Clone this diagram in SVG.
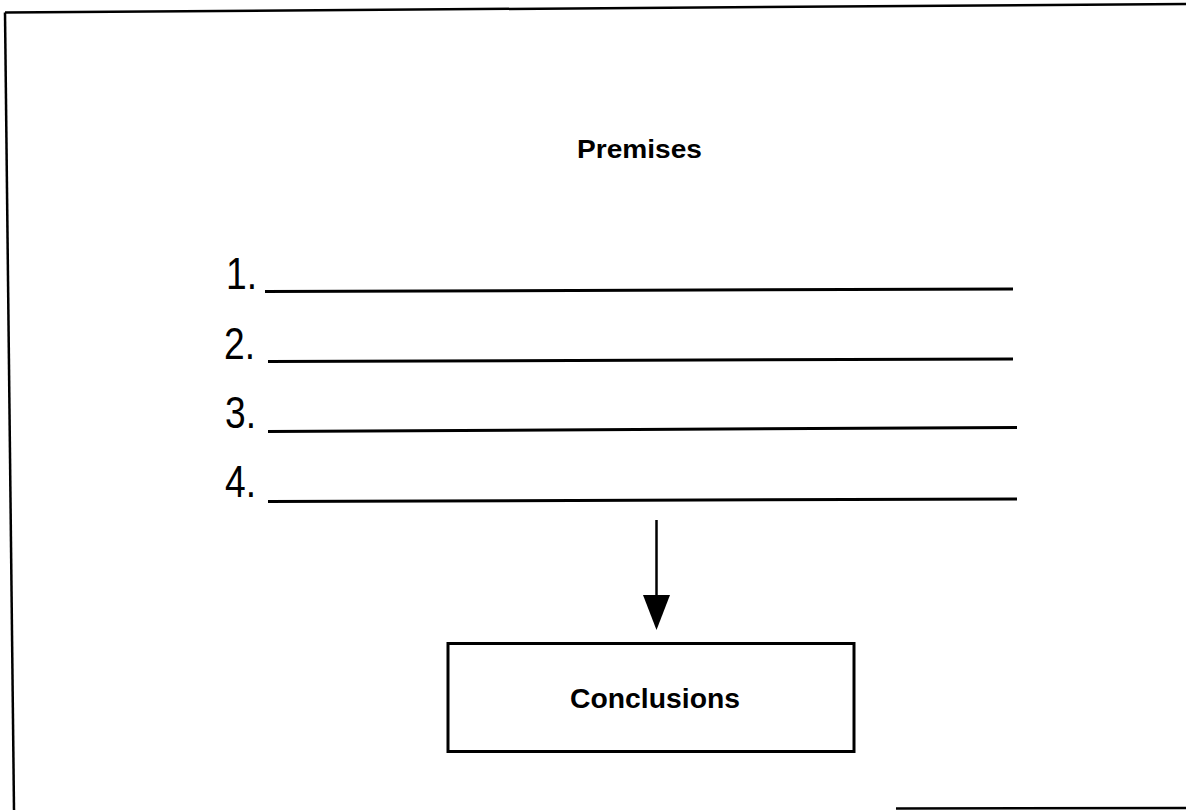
<svg xmlns="http://www.w3.org/2000/svg" width="1186" height="810" viewBox="0 0 1186 810">
<defs>
<style>
.frame{stroke:#000;stroke-width:2.5;fill:none}
.rule{stroke:#000;stroke-width:3;fill:none}
.num{font-family:"Liberation Sans",Arial,sans-serif;font-size:44px;fill:#000}
.lbl{font-family:"Liberation Sans",Arial,sans-serif;font-weight:bold;fill:#000}
</style>
</defs>
<rect x="0" y="0" width="1186" height="810" fill="#fff"/>
<g id="frame">
<line class="frame" x1="5" y1="12.5" x2="1186" y2="4"/>
<line class="frame" x1="5" y1="12.5" x2="14" y2="810"/>
<line class="frame" x1="896" y1="808.5" x2="1186" y2="808"/>
</g>
<g id="premises">
<text class="lbl" x="639.5" y="158" font-size="25" text-anchor="middle" textLength="125" lengthAdjust="spacingAndGlyphs">Premises</text>
</g>
<g id="premise-1">
<text class="num" x="226" y="289" textLength="31" lengthAdjust="spacingAndGlyphs">1.</text>
<line class="rule" x1="265" y1="291.5" x2="1013" y2="289"/>
</g>
<g id="premise-2">
<text class="num" x="224" y="359" textLength="31" lengthAdjust="spacingAndGlyphs">2.</text>
<line class="rule" x1="268" y1="361.5" x2="1013" y2="359"/>
</g>
<g id="premise-3">
<text class="num" x="225" y="428" textLength="31" lengthAdjust="spacingAndGlyphs">3.</text>
<line class="rule" x1="268" y1="431.5" x2="1017" y2="427.5"/>
</g>
<g id="premise-4">
<text class="num" x="225" y="497" textLength="31" lengthAdjust="spacingAndGlyphs">4.</text>
<line class="rule" x1="268" y1="501.5" x2="1017" y2="499"/>
</g>
<g id="connectors">
<line x1="656.5" y1="520" x2="656.5" y2="598" stroke="#000" stroke-width="2.5"/>
<polygon points="643,595 670,595 656.5,630" fill="#000"/>
</g>
<g id="conclusions">
<rect x="448" y="643.5" width="406" height="108" fill="none" stroke="#000" stroke-width="3"/>
<text class="lbl" x="655" y="708" font-size="27" text-anchor="middle" textLength="170" lengthAdjust="spacingAndGlyphs">Conclusions</text>
</g>
</svg>
